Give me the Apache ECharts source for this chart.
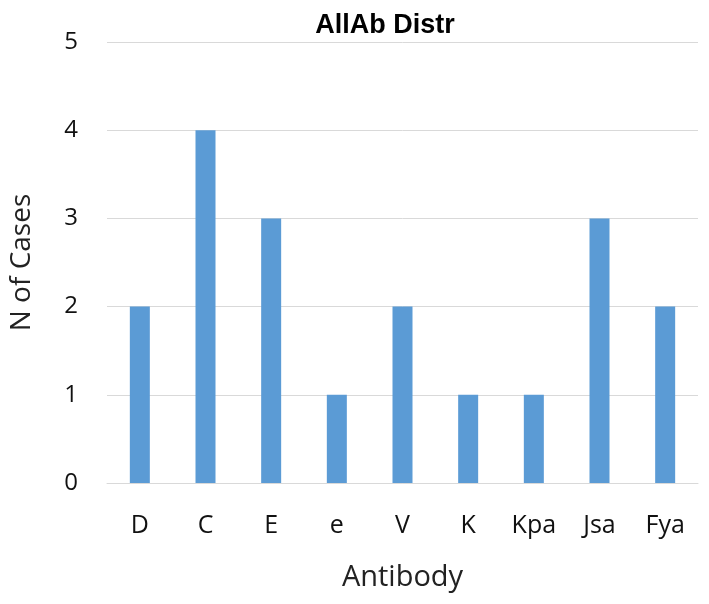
<!DOCTYPE html>
<html>
<head>
<meta charset="utf-8">
<script src="https://cdn.jsdelivr.net/npm/echarts@6/dist/echarts.min.js"></script>
<style>
  html, body { margin: 0; padding: 0; background: #fff; }
  #chart { width: 709px; height: 604px; }
</style>
</head>
<body>
<div id="chart"></div>
<script>
var antibodies = ['D', 'C', 'E', 'e', 'V', 'K', 'Kpa', 'Jsa', 'Fya'];
var nCases = [2, 4, 3, 1, 2, 1, 1, 3, 2];
var yTicks = [0, 1, 2, 3, 4, 5];

var myChart = echarts.init(document.getElementById('chart'));

myChart.setOption({
  backgroundColor: '#ffffff',
  animation: false,
  title: {
    text: 'AllAb Distr',
    left: 380,
    textAlign: 'center',
    top: 7,
    textStyle: {
      fontFamily: 'Liberation Sans Narrow, Liberation Sans, sans-serif',
      fontWeight: 'bold',
      fontSize: 27,
      color: '#000'
    }
  },
  grid: {
    left: 107,
    right: 11,
    top: 42,
    bottom: 121
  },
  xAxis: {
    type: 'category',
    data: antibodies,
    name: 'Antibody',
    nameLocation: 'middle',
    nameGap: 80,
    nameTextStyle: {
      fontFamily: 'Open Sans, sans-serif',
      fontSize: 29,
      color: '#222'
    },
    axisLine: { show: true, lineStyle: { color: '#d9d9d9', width: 1 } },
    axisTick: { show: false },
    axisLabel: {
      margin: 30,
      fontFamily: 'Open Sans, sans-serif',
      fontSize: 25,
      color: '#111'
    }
  },
  yAxis: {
    type: 'value',
    min: yTicks[0],
    max: yTicks[yTicks.length - 1],
    interval: 1,
    name: 'N of Cases',
    nameLocation: 'middle',
    nameGap: 71,
    nameTextStyle: {
      fontFamily: 'Open Sans, sans-serif',
      fontSize: 28,
      color: '#222'
    },
    axisLine: { show: false },
    axisTick: { show: false },
    axisLabel: {
      margin: 29,
      fontFamily: 'Open Sans, sans-serif',
      fontSize: 24,
      color: '#111'
    },
    splitLine: { lineStyle: { color: '#d9d9d9', width: 1 } }
  },
  series: [{
    type: 'bar',
    data: nCases,
    barWidth: 20,
    itemStyle: { color: '#5b9bd5' }
  }]
});
</script>
</body>
</html>
